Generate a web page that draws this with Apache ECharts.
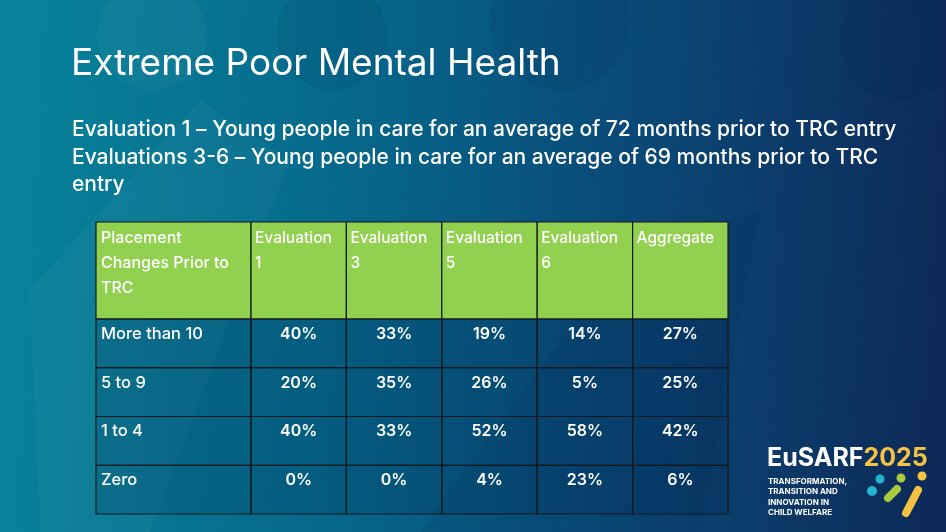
<!DOCTYPE html>
<html style="height: 100%">
<head>
    <meta charset="utf-8">
    <title>Extreme Poor Mental Health</title>
    <script src="https://cdn.jsdelivr.net/npm/echarts@6/dist/echarts.min.js"></script>
</head>
<body style="height: 100%; margin: 0">
<div id="main" style="width: 946px; height: 532px"></div>
<script type="text/javascript">

    // table content
    var cornerLabel = 'Placement\nChanges Prior to\nTRC';
    var columns = ['Evaluation\n1', 'Evaluation\n3', 'Evaluation\n5', 'Evaluation\n6', 'Aggregate'];
    var rows = ['More than 10', '5 to 9', '1 to 4', 'Zero'];
    var eval1 = [40, 20, 40, 0];
    var eval3 = [33, 35, 33, 0];
    var eval5 = [19, 26, 52, 4];
    var eval6 = [14, 5, 58, 23];
    var aggregate = [27, 25, 42, 6];

    var titleText = 'Extreme Poor Mental Health';
    var subLines = [
        'Evaluation 1 \u2013 Young people in care for an average of 72 months prior to TRC entry',
        'Evaluations 3-6 \u2013 Young people in care for an average of 69 months prior to TRC',
        'entry'
    ];

    var FONT = 'Inter, "Noto Sans", sans-serif';
    var GREEN = '#92d050';
    var BORDER = '#14181c';
    var BODY_FILL = 'rgba(0, 25, 65, 0.16)';

    // value cells [col, row, value]
    var valueData = [];
    [eval1, eval3, eval5, eval6, aggregate].forEach(function (arr, c) {
        arr.forEach(function (v, r) { valueData.push([c, r, v]); });
    });
    var headerData = columns.map(function (c, i) { return [i, 0, c]; });
    var rowData = rows.map(function (r, i) { return [0, i, r]; });

    // one renderer for all cells; opts decides fill and text placement
    function makeCell(opts) {
        return function (params, api) {
            var c = api.coord([api.value(0), api.value(1)]);
            var s = api.size([1, 1]);
            var x0 = c[0] - s[0] / 2, y0 = c[1] - s[1] / 2;
            var txt = opts.text(params.dataIndex);
            return {
                type: 'group',
                children: [{
                    type: 'rect',
                    shape: {x: x0, y: y0, width: s[0], height: s[1]},
                    style: {fill: opts.fill, stroke: BORDER, lineWidth: 1.2}
                }, {
                    type: 'text',
                    style: {
                        text: txt,
                        x: opts.align === 'center' ? c[0] : x0 + opts.padX,
                        y: y0 + opts.padY,
                        fill: '#ffffff',
                        font: opts.font,
                        align: opts.align,
                        verticalAlign: 'top',
                        lineHeight: opts.lineHeight
                    }
                }]
            };
        };
    }

    var myChart = echarts.init(document.getElementById('main'));

    function hiddenCat(data, gi, inverse) {
        return {type: 'category', data: data, gridIndex: gi, show: false, inverse: !!inverse};
    }

    var option = {
        animation: false,
        grid: [
            {left: 96, top: 222, width: 155, height: 97},
            {left: 251, top: 222, width: 477, height: 97},
            {left: 96, top: 319, width: 155, height: 195},
            {left: 251, top: 319, width: 477, height: 195}
        ],
        xAxis: [
            hiddenCat(['corner'], 0),
            hiddenCat(columns, 1),
            hiddenCat(['rows'], 2),
            hiddenCat(columns, 3)
        ],
        yAxis: [
            hiddenCat(['h'], 0),
            hiddenCat(['h'], 1),
            hiddenCat(rows, 2, true),
            hiddenCat(rows, 3, true)
        ],
        graphic: [
            {
                type: 'rect', z: -10, silent: true,
                shape: {x: 0, y: 0, width: 946, height: 532},
                style: {
                    fill: {
                        type: 'linear', x: 0, y: 0.45, x2: 1, y2: 0.55,
                        colorStops: [
                            {offset: 0, color: '#07829a'},
                            {offset: 0.35, color: '#06698c'},
                            {offset: 0.65, color: '#0a4a78'},
                            {offset: 1, color: '#0d2a58'}
                        ]
                    }
                }
            },
            // faint background shapes
            {type: 'circle', z: -9, silent: true, shape: {cx: 152, cy: 35, r: 55}, style: {fill: 'rgba(255,255,255,0.035)'}},
            {type: 'circle', z: -9, silent: true, shape: {cx: 332, cy: 35, r: 55}, style: {fill: 'rgba(0,20,60,0.08)'}},
            {type: 'circle', z: -9, silent: true, shape: {cx: 560, cy: 20, r: 70}, style: {fill: 'rgba(0,20,60,0.08)'}},
            {type: 'circle', z: -9, silent: true, shape: {cx: 900, cy: 40, r: 60}, style: {fill: 'rgba(0,20,60,0.08)'}},
            {
                type: 'polygon', z: -9, silent: true,
                shape: {points: [[30, 290], [200, 100], [290, 160], [150, 532], [40, 532]]},
                style: {fill: 'rgba(255,255,255,0.03)'}
            },
            {
                type: 'polygon', z: -9, silent: true,
                shape: {points: [[420, 532], [620, 260], [760, 210], [700, 532]]},
                style: {fill: 'rgba(0,20,60,0.08)'}
            },
            {
                type: 'text', left: 71, top: 45,
                style: {text: titleText, fill: '#ffffff', font: '37px ' + FONT}
            },
            {
                type: 'text', left: 72, top: 116,
                style: {text: subLines.join('\n'), fill: '#ffffff', font: '500 21px ' + FONT, lineHeight: 27.5}
            },
            // logo
            {
                type: 'text', left: 767, top: 446,
                style: {
                    text: '{a|EuSARF}{b|2025}',
                    rich: {
                        a: {fill: '#ffffff', font: 'bold 25px ' + FONT},
                        b: {fill: '#f6c244', font: 'bold 25px ' + FONT}
                    }
                }
            },
            {
                type: 'text', left: 768, top: 476,
                style: {
                    text: 'TRANSFORMATION,\nTRANSITION AND\nINNOVATION IN\nCHILD WELFARE',
                    fill: '#ffffff', font: 'bold 8px ' + FONT, lineHeight: 10.5
                }
            },
            {type: 'circle', shape: {cx: 880, cy: 479, r: 4.5}, style: {fill: '#1fb5cc'}},
            {type: 'circle', shape: {cx: 872, cy: 491, r: 5}, style: {fill: '#1fb5cc'}},
            {type: 'circle', shape: {cx: 901, cy: 478, r: 4.5}, style: {fill: '#a9cc3e'}},
            {type: 'line', shape: {x1: 888, y1: 498, x2: 897, y2: 489}, style: {stroke: '#a9cc3e', lineWidth: 8, lineCap: 'round'}},
            {type: 'circle', shape: {cx: 922, cy: 476, r: 4.5}, style: {fill: '#f6c244'}},
            {type: 'line', shape: {x1: 906, y1: 513, x2: 918, y2: 490}, style: {stroke: '#f6c244', lineWidth: 8, lineCap: 'round'}}
        ],
        series: [
            {
                type: 'custom', xAxisIndex: 0, yAxisIndex: 0, clip: false,
                data: [[0, 0, cornerLabel]],
                renderItem: makeCell({
                    fill: GREEN, align: 'left', padX: 5, padY: 4, lineHeight: 25,
                    font: '500 16px ' + FONT,
                    text: function () { return cornerLabel; }
                })
            },
            {
                type: 'custom', xAxisIndex: 1, yAxisIndex: 1, clip: false,
                data: headerData,
                renderItem: makeCell({
                    fill: GREEN, align: 'left', padX: 4, padY: 4, lineHeight: 25,
                    font: '500 15.5px ' + FONT,
                    text: function (i) { return columns[i]; }
                })
            },
            {
                type: 'custom', xAxisIndex: 2, yAxisIndex: 2, clip: false,
                data: rowData,
                renderItem: makeCell({
                    fill: BODY_FILL, align: 'left', padX: 5, padY: 5, lineHeight: 20,
                    font: '500 16.5px ' + FONT,
                    text: function (i) { return rows[i]; }
                })
            },
            {
                type: 'custom', xAxisIndex: 3, yAxisIndex: 3, clip: false,
                data: valueData,
                renderItem: makeCell({
                    fill: BODY_FILL, align: 'center', padX: 0, padY: 5, lineHeight: 20,
                    font: '600 16px ' + FONT,
                    text: function (i) { return valueData[i][2] + '%'; }
                })
            }
        ]
    };

    myChart.setOption(option);
</script>
</body>
</html>
